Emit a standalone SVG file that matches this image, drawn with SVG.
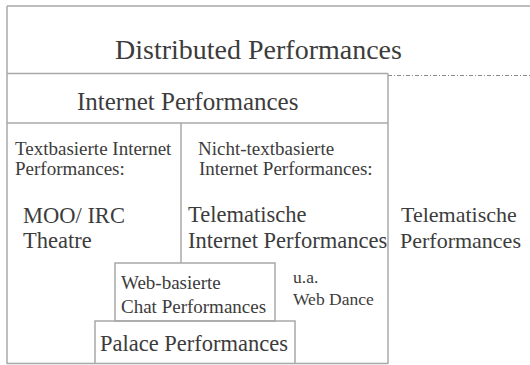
<svg xmlns="http://www.w3.org/2000/svg" width="530" height="365" viewBox="0 0 530 365">
<style>
.ln{stroke:#a8a8a8;stroke-width:1.5;fill:none}
.dd{stroke:#8a8a8a;stroke-width:1.2;fill:none;stroke-dasharray:4 2 1 2}
text{font-family:"Liberation Serif","Times New Roman",serif;fill:#3c3c3c}
</style>
<rect width="530" height="365" fill="#ffffff"/>
<g id="connectors">
<line class="ln" x1="7" y1="6" x2="530" y2="6"/>
<line class="ln" x1="7" y1="6" x2="7" y2="364"/>
<line class="ln" x1="7" y1="73.5" x2="388" y2="73.5"/>
<line class="dd" x1="388" y1="75.5" x2="530" y2="75.5"/>
<line class="ln" x1="388" y1="73.5" x2="388" y2="364"/>
<line class="ln" x1="7" y1="123" x2="388" y2="123"/>
<line class="ln" x1="181" y1="123" x2="181" y2="263"/>
<line class="ln" x1="7" y1="363.5" x2="388" y2="363.5"/>
</g>
<g id="distributed">
<text x="115" y="59" font-size="28">Distributed Performances</text>
</g>
<g id="internet">
<text x="77" y="110" font-size="25">Internet Performances</text>
</g>
<g id="textbasiert">
<text x="15" y="155" font-size="19">Textbasierte Internet</text>
<text x="15" y="175" font-size="19">Performances:</text>
<text x="23" y="223" font-size="22.5">MOO/ IRC</text>
<text x="23" y="248" font-size="22.5">Theatre</text>
</g>
<g id="nichttextbasiert">
<text x="198" y="155" font-size="19">Nicht-textbasierte</text>
<text x="199" y="175" font-size="19">Internet Performances:</text>
<text x="188" y="222" font-size="22.5">Telematische</text>
<text x="188" y="248" font-size="22.5">Internet Performances</text>
</g>
<g id="telematisch">
<text x="401" y="222" font-size="22">Telematische</text>
<text x="400" y="248" font-size="22">Performances</text>
</g>
<g id="webchat">
<rect class="ln" x="115" y="263" width="160" height="58"/>
<text x="121" y="289" font-size="19">Web-basierte</text>
<text x="121" y="313" font-size="19">Chat Performances</text>
</g>
<g id="webdance">
<text x="293" y="283" font-size="17.5">u.a.</text>
<text x="293" y="305" font-size="17.5">Web Dance</text>
</g>
<g id="palace">
<path class="ln" d="M95,364 V321 H295 V364"/>
<text x="100" y="351" font-size="22.5">Palace Performances</text>
</g>
</svg>
